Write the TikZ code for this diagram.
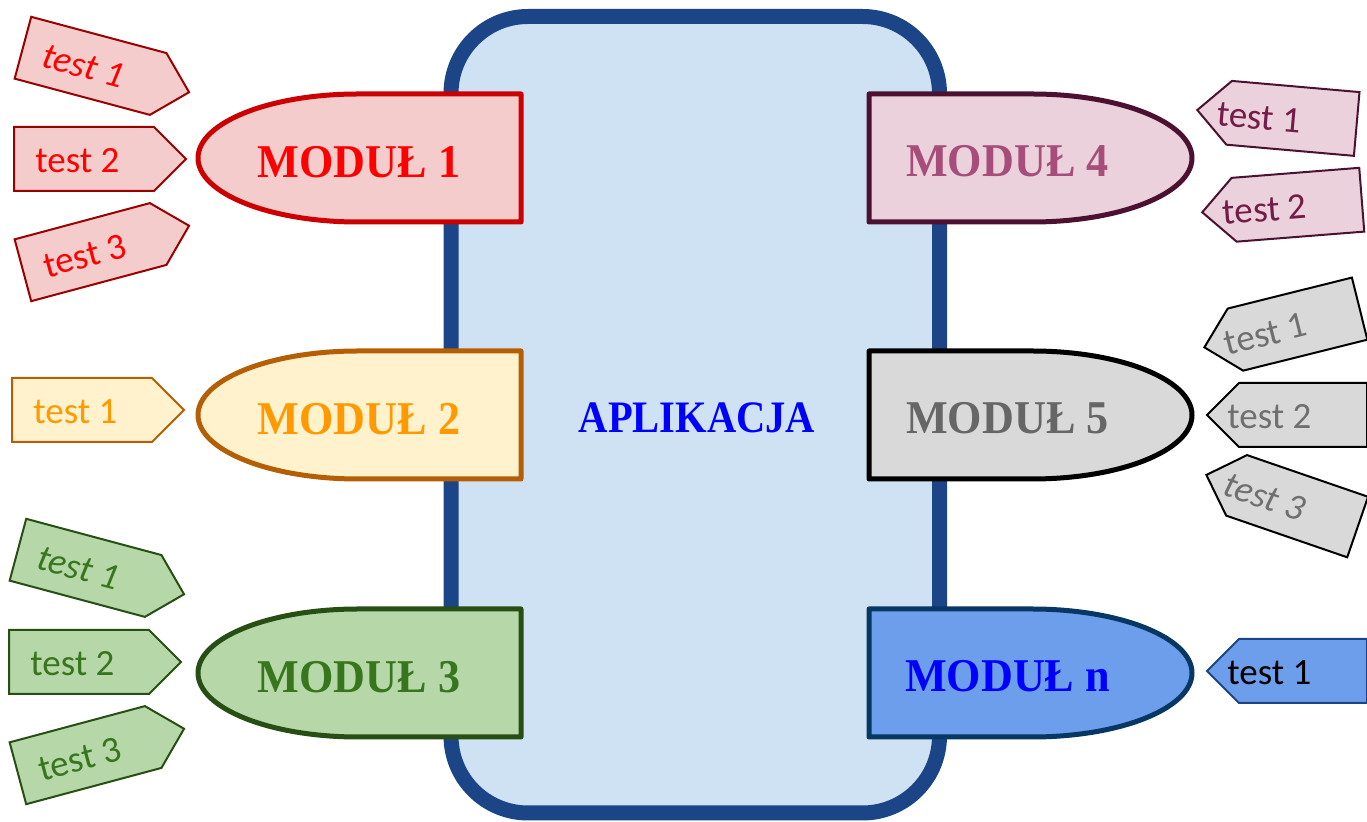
\documentclass[tikz,border=0pt]{standalone}
\usepackage{fontspec}
\usepackage{graphicx}
\setmainfont{Liberation Serif}
\newfontfamily\tagfont{Carlito}

% colour sets: fill, module outline, module text, tag outline, tag text
\definecolor{appfill}{HTML}{CFE2F3}
\definecolor{appline}{HTML}{1C4587}
\definecolor{apptext}{HTML}{0000FF}

\definecolor{redfill}{HTML}{F4CCCC}
\definecolor{redline}{HTML}{CC0000}
\definecolor{redtext}{HTML}{FF0000}
\definecolor{redtagline}{HTML}{990000}
\definecolor{redtagtext}{HTML}{FF0000}

\definecolor{orangefill}{HTML}{FFF2CC}
\definecolor{orangeline}{HTML}{B45F06}
\definecolor{orangetext}{HTML}{FF9900}
\definecolor{orangetagline}{HTML}{B45F06}
\definecolor{orangetagtext}{HTML}{FF9900}

\definecolor{greenfill}{HTML}{B6D7A8}
\definecolor{greenline}{HTML}{274E13}
\definecolor{greentext}{HTML}{38761D}
\definecolor{greentagline}{HTML}{274E13}
\definecolor{greentagtext}{HTML}{38761D}

\definecolor{plumfill}{HTML}{EAD1DC}
\definecolor{plumline}{HTML}{4C1130}
\definecolor{plumtext}{HTML}{A64D79}
\definecolor{plumtagline}{HTML}{4C1130}
\definecolor{plumtagtext}{HTML}{741B47}

\definecolor{greyfill}{HTML}{D9D9D9}
\definecolor{greyline}{HTML}{000000}
\definecolor{greytext}{HTML}{666666}
\definecolor{greytagline}{HTML}{000000}
\definecolor{greytagtext}{HTML}{6F6F6F}

\definecolor{bluefill}{HTML}{6D9EEB}
\definecolor{blueline}{HTML}{073763}
\definecolor{bluetext}{HTML}{0000FF}
\definecolor{bluetagline}{HTML}{1C4587}
\definecolor{bluetagtext}{HTML}{000000}

\tikzset{
  modpath/.style={line width=2.5pt, line join=round},
  tagpath/.style={line width=1pt, line join=miter},
  tagtext/.style={anchor=west, inner sep=0pt,
    font=\tagfont\fontsize{18.5}{20}\selectfont},
  tagitalic/.style={font=\tagfont\itshape\fontsize{18.5}{20}\selectfont},
  tagupright/.style={},
  modtext/.style={anchor=base, inner sep=0pt,
    font=\bfseries\fontsize{23.5}{26}\selectfont},
}

% tag pointing right (towards a module on its right)
% #1 name, #2 centre, #3 angle, #4 colour set, #5 extra text style, #6 text
\newcommand\tagright[6]{%
  \begin{scope}[shift={#2}, rotate=#3, transform shape]
    \draw[tagpath, fill=#4fill, draw=#4tagline]
      (-86,32) -- (54,32) -- (86,0) -- (54,-32) -- (-86,-32) -- cycle;
    \node[tagtext, #5, text=#4tagtext] (#1) at (-65,-2) {#6};
  \end{scope}}

% tag pointing left (towards a module on its left)
\newcommand\tagleft[6]{%
  \begin{scope}[shift={#2}, rotate=#3, transform shape]
    \draw[tagpath, fill=#4fill, draw=#4tagline]
      (-80,0) -- (-48,32) -- (80,32) -- (80,-32) -- (-48,-32) -- cycle;
    \node[tagtext, #5, text=#4tagtext] (#1) at (-60,-2) {#6};
  \end{scope}}

% module with its round end on the left: #1 top, #2 bottom, #3 colour set
\newcommand\modleft[3]{%
  \draw[modpath, fill=#3fill, draw=#3line]
    (521,#1) -- (358,#1)
    arc[start angle=90, end angle=270, x radius=160, y radius=64]
    -- (521,#2) -- cycle;}

% module with its round end on the right
\newcommand\modright[3]{%
  \draw[modpath, fill=#3fill, draw=#3line]
    (869,#1) -- (1032,#1)
    arc[start angle=90, end angle=-90, x radius=160, y radius=64]
    -- (869,#2) -- cycle;}

\begin{document}
\begin{tikzpicture}[x=0.5pt, y=0.5pt]
  \useasboundingbox (0,0) rectangle (1367,-822);

  % application body
  \draw[line width=7.5pt, fill=appfill, draw=appline, rounded corners=38.5pt]
    (451,-16.5) rectangle (939.5,-813);
  \node[anchor=base, inner sep=0pt, text=apptext,
        font=\bfseries\fontsize{22.5}{25}\selectfont] (app) at (697,-433)
    {\scalebox{0.9}[1]{APLIKACJA}};

  % modules on the left
  \modleft{-94}{-222}{red}
  \node[modtext, text=redtext] (m1) at (359,-178) {\scalebox{0.94}[1]{MODUŁ 1}};
  \modleft{-351}{-479}{orange}
  \node[modtext, text=orangetext] (m2) at (359,-435) {\scalebox{0.94}[1]{MODUŁ 2}};
  \modleft{-609}{-737}{green}
  \node[modtext, text=greentext] (m3) at (359,-693) {\scalebox{0.94}[1]{MODUŁ 3}};

  % modules on the right
  \modright{-94}{-222}{plum}
  \node[modtext, text=plumtext] (m4) at (1007.5,-177) {\scalebox{0.94}[1]{MODUŁ 4}};
  \modright{-351}{-479}{grey}
  \node[modtext, text=greytext] (m5) at (1007.5,-434) {\scalebox{0.94}[1]{MODUŁ 5}};
  \modright{-609}{-737}{blue}
  \node[modtext, text=bluetext] (mn) at (1007.5,-692) {\scalebox{0.94}[1]{MODUŁ n}};

  % tests of module 1
  \tagright{m1t1}{(106,-70)}{-15}{red}{tagitalic}{test 1}
  \tagright{m1t2}{(100,-159)}{0}{red}{tagupright}{test 2}
  \tagright{m1t3}{(106,-248)}{15}{red}{tagupright}{test 3}

  % tests of module 2
  \tagright{m2t1}{(98,-410)}{0}{orange}{tagupright}{test 1}

  % tests of module 3
  \tagright{m3t1}{(101,-572)}{-15}{green}{tagitalic}{test 1}
  \tagright{m3t2}{(95,-662)}{0}{green}{tagupright}{test 2}
  \tagright{m3t3}{(101,-751)}{15}{green}{tagupright}{test 3}

  % tests of module 4
  \tagleft{m4t1}{(1277,-117)}{-5}{plum}{tagupright}{test 1}
  \tagleft{m4t2}{(1282,-206)}{4.5}{plum}{tagupright}{test 2}

  % tests of module 5
  \tagleft{m5t1}{(1282,-328)}{14}{grey}{tagupright}{test 1}
  \tagleft{m5t2}{(1287,-415)}{0}{grey}{tagupright}{test 2}
  \tagleft{m5t3}{(1282,-501)}{-19}{grey}{tagitalic}{test 3}

  % tests of module n
  \tagleft{mnt1}{(1287,-671)}{0}{blue}{tagupright}{test 1}
\end{tikzpicture}
\end{document}
